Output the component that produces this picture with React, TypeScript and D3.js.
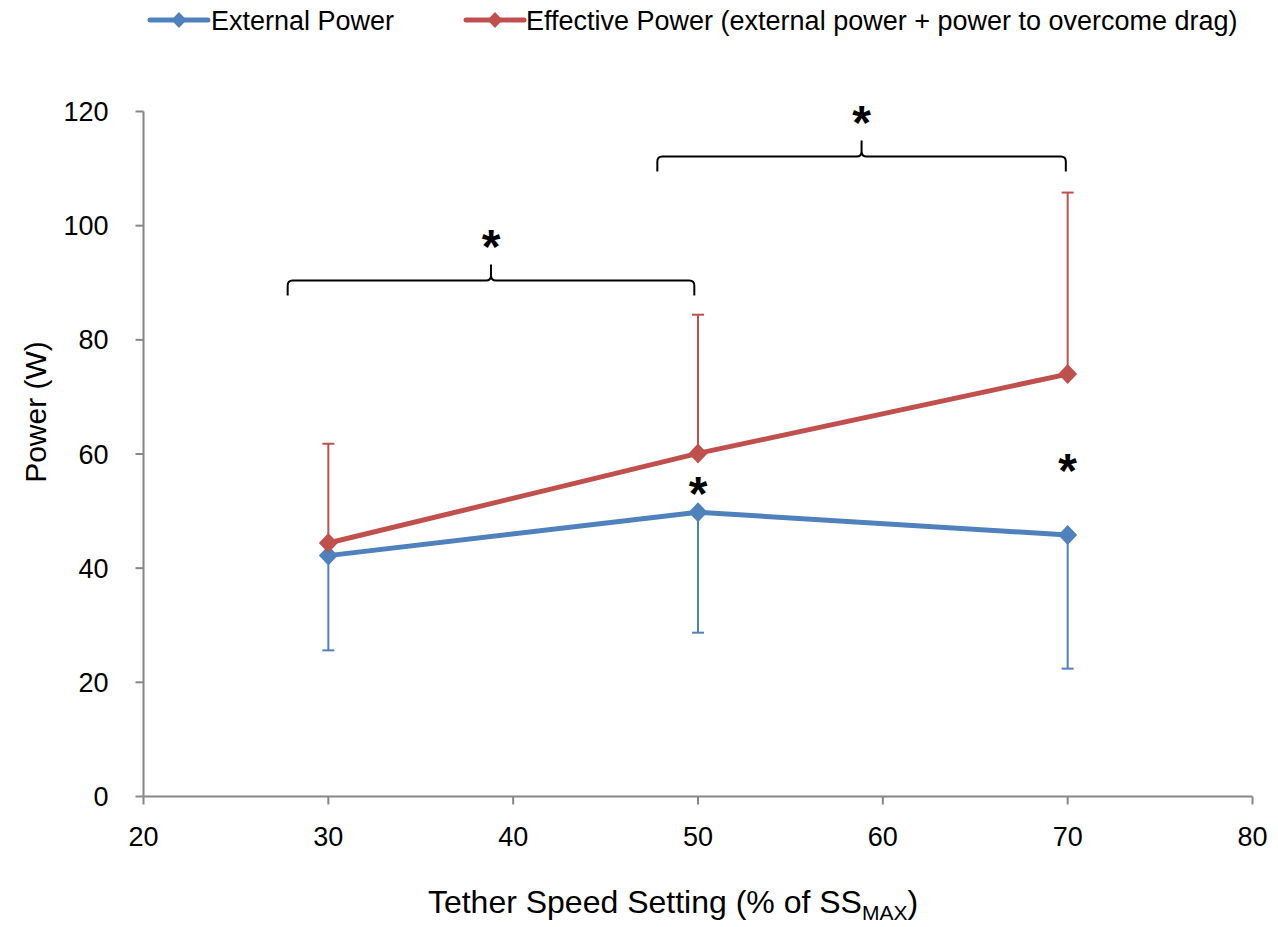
import React from "react";
import * as d3 from "d3";

// tether speed settings (% of SSmax)
const SPEEDS = [30, 50, 70];
// external power, mean and lower end of SD bar
const EXTERNAL = [42.2, 49.8, 45.8];
const EXTERNAL_LOW = [25.6, 28.7, 22.4];
// effective power, mean and upper end of SD bar
const EFFECTIVE = [44.4, 60.1, 74.0];
const EFFECTIVE_HIGH = [61.8, 84.4, 105.8];

const X_TICKS = [20, 30, 40, 50, 60, 70, 80];
const Y_TICKS = [0, 20, 40, 60, 80, 100, 120];

// significance brackets (x from, x to, level in W)
const BRACKET_FROM = [27.8, 47.8];
const BRACKET_TO = [49.8, 69.9];
const BRACKET_LEVEL = [90.4, 112.1];

// single asterisks above points
const STAR_X = [50, 70];
const STAR_Y = [55.0, 59.0];

const W = 1278;
const H = 927;
const BLUE = "#4F81BD";
const RED = "#C0504D";
const AXIS = "#868686";
const FONT = "'Liberation Sans', Arial, sans-serif";
const STAR_SIZE = 48;

const x = d3.scaleLinear().domain([20, 80]).range([143.5, 1252.5]);
const y = d3.scaleLinear().domain([0, 120]).range([796.5, 111.5]);

const diamond = (cx: number, cy: number, s = 1) =>
  `M${cx},${cy - 10 * s}L${cx + 9.5 * s},${cy}L${cx},${cy + 10 * s}L${cx - 9.5 * s},${cy}Z`;

const bracket = (x0: number, x1: number, yh: number) => {
  const xm = (x0 + x1) / 2;
  const r = 5;
  return (
    `M${x0},${yh + 15}L${x0},${yh + r}Q${x0},${yh} ${x0 + r},${yh}` +
    `L${xm - r},${yh}Q${xm},${yh} ${xm},${yh - r}L${xm},${yh - 16}` +
    `M${xm},${yh - r}Q${xm},${yh} ${xm + r},${yh}` +
    `L${x1 - r},${yh}Q${x1},${yh} ${x1},${yh + r}L${x1},${yh + 15}`
  );
};

const Star = ({ cx, cy }: { cx: number; cy: number }) => (
  <text x={cx} y={cy + 0.57 * STAR_SIZE} textAnchor="middle" fontSize={STAR_SIZE} fontWeight="bold" fill="#000">
    *
  </text>
);

export default function App() {
  const line = d3
    .line<number>()
    .x((_, i) => x(SPEEDS[i]))
    .y((d) => y(d));

  return (
    <svg
      width={W}
      height={H}
      style={{ position: "absolute", left: 0, top: 0, background: "#fff" }}
      fontFamily={FONT}
    >
      {/* legend */}
      <g>
        <line x1={150} x2={208} y1={20} y2={20} stroke={BLUE} strokeWidth={5} strokeLinecap="round" />
        <path d={diamond(179, 20, 0.8)} fill={BLUE} />
        <text x={211} y={30} fontSize={27} fill="#000">External Power</text>
        <line x1={466} x2={524} y1={20} y2={20} stroke={RED} strokeWidth={5} strokeLinecap="round" />
        <path d={diamond(495, 20, 0.8)} fill={RED} />
        <text x={526} y={30} fontSize={27} fill="#000">
          Effective Power (external power + power to overcome drag)
        </text>
      </g>

      {/* axes */}
      <g stroke={AXIS} strokeWidth={2}>
        <line x1={x(20)} x2={x(80)} y1={y(0)} y2={y(0)} />
        <line x1={x(20)} x2={x(20)} y1={y(0)} y2={y(120)} />
        {X_TICKS.map((t) => (
          <line key={t} x1={x(t)} x2={x(t)} y1={y(0)} y2={y(0) + 8} />
        ))}
        {Y_TICKS.map((t) => (
          <line key={t} x1={x(20) - 8} x2={x(20)} y1={y(t)} y2={y(t)} />
        ))}
      </g>
      <g fontSize={27} fill="#000">
        {X_TICKS.map((t) => (
          <text key={t} x={x(t)} y={y(0) + 49} textAnchor="middle">
            {t}
          </text>
        ))}
        {Y_TICKS.map((t) => (
          <text key={t} x={x(20) - 35} y={y(t) + 9.5} textAnchor="end">
            {t}
          </text>
        ))}
      </g>
      <text transform="translate(46,412) rotate(-90)" textAnchor="middle" fontSize={30} fill="#000">
        Power (W)
      </text>
      <text x={673} y={913} textAnchor="middle" fontSize={32} fill="#000">
        Tether Speed Setting (% of SS
        <tspan fontSize={21} dy={7}>MAX</tspan>
        <tspan dy={-7}>)</tspan>
      </text>

      {/* error bars */}
      <g stroke={BLUE} strokeWidth={2}>
        {SPEEDS.map((s, i) => (
          <g key={s}>
            <line x1={x(s)} x2={x(s)} y1={y(EXTERNAL[i])} y2={y(EXTERNAL_LOW[i])} />
            <line x1={x(s) - 6} x2={x(s) + 6} y1={y(EXTERNAL_LOW[i])} y2={y(EXTERNAL_LOW[i])} />
          </g>
        ))}
      </g>
      <g stroke={RED} strokeWidth={2}>
        {SPEEDS.map((s, i) => (
          <g key={s}>
            <line x1={x(s)} x2={x(s)} y1={y(EFFECTIVE[i])} y2={y(EFFECTIVE_HIGH[i])} />
            <line x1={x(s) - 6} x2={x(s) + 6} y1={y(EFFECTIVE_HIGH[i])} y2={y(EFFECTIVE_HIGH[i])} />
          </g>
        ))}
      </g>

      {/* series */}
      <path d={line(EXTERNAL) || ""} fill="none" stroke={BLUE} strokeWidth={5} strokeLinejoin="round" />
      {SPEEDS.map((s, i) => (
        <path key={s} d={diamond(x(s), y(EXTERNAL[i]))} fill={BLUE} />
      ))}
      <path d={line(EFFECTIVE) || ""} fill="none" stroke={RED} strokeWidth={5} strokeLinejoin="round" />
      {SPEEDS.map((s, i) => (
        <path key={s} d={diamond(x(s), y(EFFECTIVE[i]))} fill={RED} />
      ))}

      {/* significance marks */}
      <g fill="none" stroke="#000" strokeWidth={2}>
        {BRACKET_LEVEL.map((lv, i) => (
          <path key={i} d={bracket(x(BRACKET_FROM[i]), x(BRACKET_TO[i]), y(lv))} />
        ))}
      </g>
      {BRACKET_LEVEL.map((lv, i) => (
        <Star key={i} cx={x((BRACKET_FROM[i] + BRACKET_TO[i]) / 2)} cy={y(lv) - 45} />
      ))}
      {STAR_X.map((s, i) => (
        <Star key={s} cx={x(s)} cy={y(STAR_Y[i])} />
      ))}
    </svg>
  );
}
